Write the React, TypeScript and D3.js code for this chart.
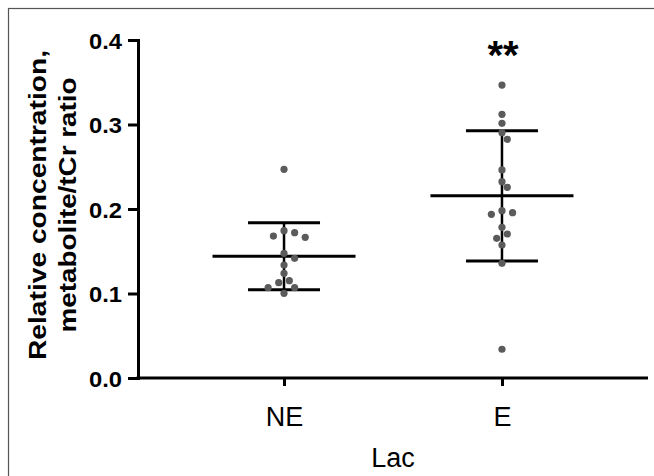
import { useEffect, useRef } from 'react'
import * as d3 from 'd3'

const groups = ['NE', 'E']

const neValues = [
  0.247, 0.172, 0.1665, 0.168, 0.1743, 0.1476, 0.1416, 0.1337, 0.1239, 0.1152,
  0.1128, 0.1069, 0.1069, 0.1002,
]

const eValues = [
  0.3467, 0.3121, 0.3014, 0.2903, 0.2824, 0.2462, 0.2323, 0.2257, 0.198, 0.1937,
  0.1956, 0.1783, 0.1704, 0.1653, 0.1574, 0.1357, 0.034,
]

const yTicks = [0, 0.1, 0.2, 0.3, 0.4]
const significance = ['', '**']

const FONT = 'Arial, "Liberation Sans", Helvetica, sans-serif'

// greedy beeswarm: try offsets 0, +s, -s, +2s ... until no collision
function swarm(ys: number[], step: number, minDist: number) {
  const order = d3.range(ys.length).sort((a, b) => ys[a] - ys[b])
  const placed: { x: number; y: number }[] = []
  const out: number[] = new Array(ys.length).fill(0)
  order.forEach(i => {
    const y = ys[i]
    for (let k = 0; k < 40; k++) {
      const off = k === 0 ? 0 : (k % 2 === 1 ? 1 : -1) * Math.ceil(k / 2) * step
      const hit = placed.some(p => Math.hypot(p.x - off, p.y - y) < minDist)
      if (!hit) {
        placed.push({ x: off, y })
        out[i] = off
        break
      }
    }
  })
  return out
}

export default function App() {
  const svgRef = useRef<SVGSVGElement>(null)

  useEffect(() => {
    if (!svgRef.current) return
    const width = 654
    const height = 476

    const svg = d3.select(svgRef.current)
    svg.selectAll('*').remove()
    svg.attr('width', width).attr('height', height)

    svg.append('rect')
      .attr('width', width).attr('height', height).attr('fill', '#fff')

    // outer frame
    svg.append('rect')
      .attr('x', 8.5).attr('y', 8.5)
      .attr('width', 800).attr('height', 800)
      .attr('fill', 'none').attr('stroke', '#555').attr('stroke-width', 1.2)

    const left = 138
    const right = 648
    const top = 40
    const bottom = 378

    const y = d3.scaleLinear().domain([0, 0.4]).range([bottom, top])
    const x = d3.scalePoint().domain(groups).range([left, right]).padding(0.67)

    // y axis
    const yAxis = svg.append('g')
      .attr('transform', `translate(${left},0)`)
      .call(d3.axisLeft(y).tickValues(yTicks).tickFormat(d3.format('.1f')).tickSize(10).tickPadding(6))
    yAxis.selectAll('path, line').attr('stroke', '#000').attr('stroke-width', 3)
    yAxis.selectAll('text')
      .attr('fill', '#000')
      .attr('dy', '0.37em')
      .style('font-family', FONT)
      .style('font-size', '22px')
      .style('font-weight', 'bold')
      .attr('textLength', 33)
      .attr('lengthAdjust', 'spacingAndGlyphs')

    // x axis
    const xAxis = svg.append('g')
      .attr('transform', `translate(0,${bottom})`)
      .call(d3.axisBottom(x).tickSize(8).tickSizeOuter(0).tickPadding(10))
    xAxis.select('.domain').attr('d', `M${left - 1.5},0H${right}`)
    xAxis.selectAll('path, line').attr('stroke', '#000').attr('stroke-width', 3)
    xAxis.selectAll('text')
      .attr('fill', '#000')
      .attr('dy', '0')
      .attr('y', 48)
      .style('font-family', FONT)
      .style('font-size', '27px')

    svg.append('text')
      .attr('x', (left + right) / 2)
      .attr('y', 467)
      .attr('text-anchor', 'middle')
      .style('font-family', FONT)
      .style('font-size', '27px')
      .text('Lac')

    // y title
    const titleY = 205
    svg.append('text')
      .attr('transform', `translate(46,${titleY}) rotate(-90)`)
      .attr('text-anchor', 'middle')
      .style('font-family', FONT)
      .style('font-size', '24px')
      .style('font-weight', 'bold')
      .attr('textLength', 310)
      .attr('lengthAdjust', 'spacingAndGlyphs')
      .text('Relative concentration,')
    svg.append('text')
      .attr('transform', `translate(76,${titleY}) rotate(-90)`)
      .attr('text-anchor', 'middle')
      .style('font-family', FONT)
      .style('font-size', '24px')
      .style('font-weight', 'bold')
      .attr('textLength', 255)
      .attr('lengthAdjust', 'spacingAndGlyphs')
      .text('metabolite/tCr ratio')

    const series = [neValues, eValues]
    const meanHalf = 71.5
    const capHalf = 36

    series.forEach((vals, gi) => {
      const cx = x(groups[gi]) as number
      const m = d3.mean(vals) as number
      const sd = d3.deviation(vals) as number
      const g = svg.append('g')

      g.append('line')
        .attr('x1', cx).attr('x2', cx)
        .attr('y1', y(m + sd)).attr('y2', y(m - sd))
        .attr('stroke', '#000').attr('stroke-width', 2.5)
      ;[m + sd, m - sd].forEach(v => {
        g.append('line')
          .attr('x1', cx - capHalf).attr('x2', cx + capHalf)
          .attr('y1', y(v)).attr('y2', y(v))
          .attr('stroke', '#000').attr('stroke-width', 3)
      })
      g.append('line')
        .attr('x1', cx - meanHalf).attr('x2', cx + meanHalf)
        .attr('y1', y(m)).attr('y2', y(m))
        .attr('stroke', '#000').attr('stroke-width', 3)

      const ys = vals.map(v => y(v))
      const offs = swarm(ys, 5.3, 7.6)
      g.selectAll('circle')
        .data(vals)
        .enter()
        .append('circle')
        .attr('cx', (d, i) => cx + offs[i])
        .attr('cy', d => y(d))
        .attr('r', 3.6)
        .attr('fill', '#5b5b5b')

      if (significance[gi]) {
        svg.append('text')
          .attr('x', cx + 1)
          .attr('y', 69)
          .attr('text-anchor', 'middle')
          .style('font-family', FONT)
          .style('font-size', '40px')
          .style('font-weight', 'bold')
          .text(significance[gi])
      }
    })
  }, [])

  return (
    <svg ref={svgRef} style={{ position: 'absolute', left: 0, top: 0 }}></svg>
  )
}
